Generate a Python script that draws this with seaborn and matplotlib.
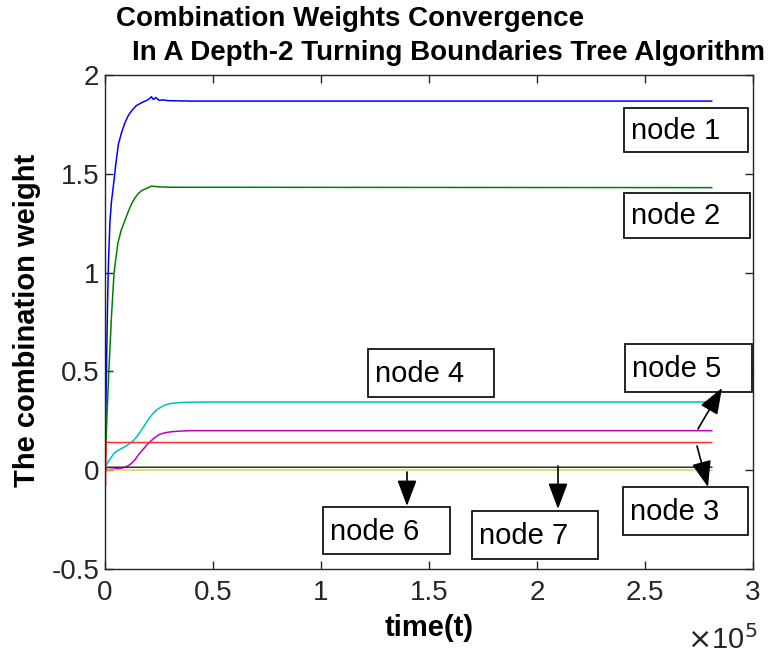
import numpy as np
import pandas as pd
import matplotlib
matplotlib.use("Agg")
import matplotlib.pyplot as plt
import seaborn as sns
from matplotlib.patches import Rectangle, FancyArrowPatch
from matplotlib.ticker import FuncFormatter

# ---------------- data (time in units of 1e5) ----------------
t_node1 = [0, 0.004, 0.008, 0.012, 0.016, 0.023, 0.03, 0.039, 0.05, 0.062, 0.077, 0.093, 0.108,
           0.124, 0.145, 0.17, 0.19, 0.2, 0.21, 0.215, 0.224, 0.235, 0.25, 0.27, 0.293, 0.4, 2.81]
w_node1 = [0, 0.3, 0.6, 0.85, 1.05, 1.26, 1.36, 1.44, 1.55, 1.65, 1.71, 1.76, 1.795,
           1.82, 1.845, 1.86, 1.87, 1.875, 1.885, 1.89, 1.876, 1.886, 1.872, 1.874, 1.87, 1.868, 1.868]

t_node2 = [0, 0.005, 0.01, 0.015, 0.02, 0.03, 0.042, 0.05, 0.06, 0.075, 0.093, 0.108, 0.124,
           0.14, 0.154, 0.17, 0.19, 0.216, 0.25, 0.3, 2.81]
w_node2 = [0, 0.16, 0.3, 0.43, 0.55, 0.78, 1.0, 1.07, 1.15, 1.215, 1.266, 1.31, 1.35,
           1.38, 1.40, 1.415, 1.425, 1.438, 1.434, 1.432, 1.43]

t_node3 = [0, 0.002, 0.004, 0.006, 0.03, 2.81]
w_node3 = [0, -0.08, 0.05, 0.142, 0.14, 0.14]

t_node4 = [0, 0.004, 0.008, 0.015, 0.023, 0.035, 0.046, 0.06, 0.08, 0.095, 0.108, 0.125, 0.14,
           0.155, 0.17, 0.185, 0.2, 0.216, 0.23, 0.24, 0.262, 0.28, 0.3, 0.339, 0.4, 0.5, 2.81]
w_node4 = [0, 0.02, 0.03, 0.043, 0.055, 0.075, 0.09, 0.1, 0.112, 0.12, 0.13, 0.143, 0.16,
           0.182, 0.205, 0.23, 0.255, 0.279, 0.296, 0.306, 0.321, 0.331, 0.337, 0.342, 0.344, 0.345, 0.345]

t_node5 = [0, 0.01, 0.05, 0.075, 0.093, 0.11, 0.123, 0.14, 0.154, 0.168, 0.18, 0.2, 0.225,
           0.247, 0.265, 0.28, 0.309, 0.35, 0.4, 2.81]
w_node5 = [0, 0.003, 0.007, 0.01, 0.015, 0.024, 0.035, 0.055, 0.077, 0.095, 0.11, 0.136, 0.16,
           0.178, 0.186, 0.19, 0.195, 0.198, 0.2, 0.2]

t_node6 = [0, 0.01, 2.81]
w_node6 = [0, 0.015, 0.015]

t_node7 = [0, 2.81]
w_node7 = [0.003, 0.003]

node_names = ["node 1", "node 2", "node 3", "node 4", "node 5", "node 6", "node 7"]
node_colors = ["#0000ff", "#008000", "#ff3030", "#00bfbf", "#bf00bf", "#333333", "#d6d64a"]

x_ticks = [0, 0.5, 1, 1.5, 2, 2.5, 3]
y_ticks = [-0.5, 0, 0.5, 1, 1.5, 2]

series_t = [t_node1, t_node2, t_node3, t_node4, t_node5, t_node6, t_node7]
series_w = [w_node1, w_node2, w_node3, w_node4, w_node5, w_node6, w_node7]
frames = []
for name, tt, ww in zip(node_names, series_t, series_w):
    frames.append(pd.DataFrame({"t": tt, "w": ww, "node": name}))
df = pd.concat(frames, ignore_index=True)

# ---------------- figure ----------------
W, H = 768, 655
sns.set_theme(style="white")
plt.rcParams["font.family"] = ["Liberation Sans", "DejaVu Sans"]

fig = plt.figure(figsize=(W / 100, H / 100), dpi=100)
ax = fig.add_axes([105 / W, 1 - 569 / H, 648 / W, 494 / H])

draw_order = ["node 1", "node 2", "node 4", "node 5", "node 6", "node 7", "node 3"]
for name in draw_order:
    i = node_names.index(name)
    sns.lineplot(data=df[df.node == name], x="t", y="w", color=node_colors[i],
                 estimator=None, sort=False, linewidth=1.1, ax=ax, legend=False)

ax.set_xlim(0, 3)
ax.set_ylim(-0.5, 2)
ax.set_xticks(x_ticks)
ax.set_yticks(y_ticks)
fmt = FuncFormatter(lambda v, p: "%g" % v)
ax.xaxis.set_major_formatter(fmt)
ax.yaxis.set_major_formatter(fmt)
axc = "#262626"
for s in ax.spines.values():
    s.set_color(axc)
    s.set_linewidth(1.0)
    s.set_visible(True)
ax.tick_params(direction="in", length=6, width=1.0, color=axc, labelcolor=axc,
               labelsize=20, top=True, right=True, bottom=True, left=True)
ax.tick_params(axis="x", pad=8)
ax.tick_params(axis="y", pad=4)
ax.set_xlabel("time(t)", fontsize=21, fontweight="bold", color="black", va="center")
ax.set_ylabel("The combination weight", fontsize=21, fontweight="bold", color="black", va="center")
ax.xaxis.set_label_coords((429 - 105) / 648, (569 - 628) / 494)
ax.yaxis.set_label_coords((27 - 105) / 648, (569 - 320) / 494)
ax.grid(False)

def fx(px):
    return px / W

def fy(py):
    return 1 - py / H

# exponent label
fig.text(fx(687), fy(649), r"$\times$10$^5$", fontsize=21, color=axc, ha="left", va="baseline")

# title
fig.text(fx(350), fy(26), "Combination Weights Convergence", fontsize=20, fontweight="bold",
         ha="center", va="baseline", color="black")
fig.text(fx(449), fy(60), "In A Depth-2 Turning Boundaries Tree Algorithm", fontsize=20,
         fontweight="bold", ha="center", va="baseline", color="black")

# annotation boxes (figure pixel positions: x0, y0, x1, y1)
boxes = {
    "node 1": (624, 108, 748, 152),
    "node 2": (624, 193, 750, 238),
    "node 4": (368, 349, 494, 397),
    "node 5": (625, 344, 752, 392),
    "node 3": (623, 487, 748, 535),
    "node 6": (323, 507, 450, 554),
    "node 7": (472, 511, 598, 559),
}
for label, (x0, y0, x1, y1) in boxes.items():
    fig.add_artist(Rectangle((fx(x0), fy(y1)), (x1 - x0) / W, (y1 - y0) / H,
                             transform=fig.transFigure, fill=True, fc="white",
                             ec="black", lw=1.2, zorder=5))
    fig.text(fx(x0 + 7), fy((y0 + y1) / 2 + 1), label, fontsize=21, ha="left", va="center",
             color="black", zorder=6)

arrows = [((698, 429), (722, 388)), ((697, 446), (708, 487)),
          ((407, 472), (407, 506)), ((558, 466), (558, 509))]
for (a, b) in arrows:
    fig.add_artist(FancyArrowPatch((fx(a[0]), fy(a[1])), (fx(b[0]), fy(b[1])),
                                   transform=fig.transFigure,
                                   arrowstyle="-|>,head_length=0.8,head_width=0.3",
                                   mutation_scale=20, color="black", lw=1.2,
                                   shrinkA=0, shrinkB=0, zorder=7))

fig.savefig("out.png", dpi=100)
